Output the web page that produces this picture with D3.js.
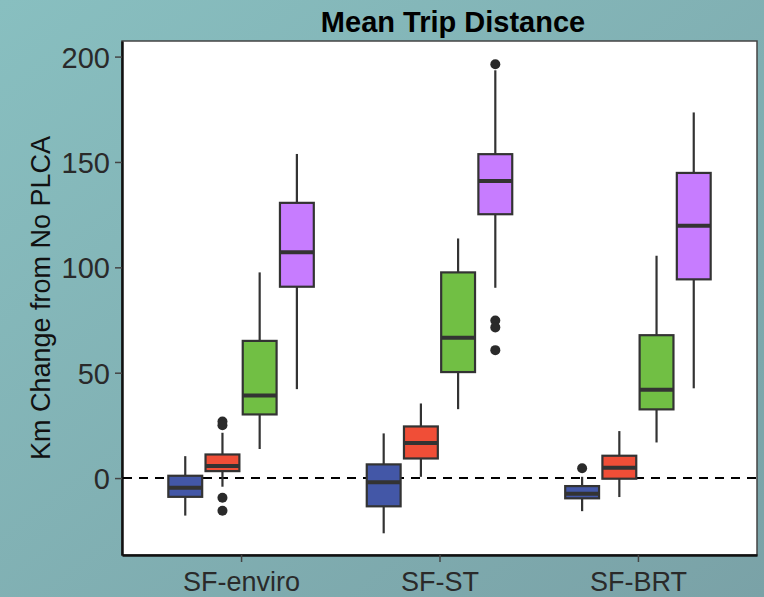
<!DOCTYPE html>
<html>
<head>
<meta charset="utf-8">
<script src="https://cdn.jsdelivr.net/npm/d3@7"></script>
<style>
  body { margin: 0; padding: 0; overflow: hidden; }
  text { font-family: "Liberation Sans", Arial, sans-serif; }
</style>
</head>
<body>
<script>
// categories and series
var categories = ['SF-enviro', 'SF-ST', 'SF-BRT'];
var series = ['s1', 's2', 's3', 's4'];
var seriesColors = ['#4357a7', '#f04e37', '#71bf44', '#c77cff'];
var yTicks = [0, 50, 100, 150, 200];

// box stats per series, one entry per category: [low whisker, q1, median, q3, high whisker]
var blueStats   = [[-17.8, -8.9, -4.6, 1.1, 10.4], [-26.2, -13.4, -2.0, 6.5, 21.2], [-15.7, -9.6, -7.4, -3.8, 0.6]];
var redStats    = [[-4.1, 3.3, 5.7, 11.2, 21.5], [0.6, 9.3, 16.6, 24.5, 35.4], [-9.0, -0.3, 4.9, 10.6, 22.3]];
var greenStats  = [[13.8, 30.2, 39.2, 65.1, 97.6], [32.7, 50.3, 66.6, 97.6, 113.7], [16.9, 32.6, 41.9, 67.8, 105.5]];
var purpleStats = [[42.2, 90.8, 107.2, 130.6, 153.8], [90.3, 125.2, 141.0, 153.7, 193.5], [42.6, 94.3, 119.7, 144.8, 173.5]];

// outliers: [category, series index, value]
var outliers = [
  ['SF-enviro', 1, 26.8], ['SF-enviro', 1, 25.1], ['SF-enviro', 1, -9.3], ['SF-enviro', 1, -15.5],
  ['SF-ST', 3, 196.4], ['SF-ST', 3, 74.8], ['SF-ST', 3, 71.5], ['SF-ST', 3, 60.7],
  ['SF-BRT', 0, 4.7]
];

var w = 764, h = 597;
var pLeft = 122, pRight = 757, pTop = 41, pBottom = 555;

var svg = d3.select('body')
  .append('svg')
  .attr('width', w)
  .attr('height', h);

// background gradient
var grad = svg.append('defs')
  .append('linearGradient')
  .attr('id', 'bg')
  .attr('x1', '0%').attr('y1', '0%')
  .attr('x2', '100%').attr('y2', '100%');
grad.append('stop').attr('offset', '0%').attr('stop-color', '#88bfc0');
grad.append('stop').attr('offset', '100%').attr('stop-color', '#7aa2a7');
svg.append('rect')
  .attr('width', w)
  .attr('height', h)
  .attr('fill', 'url(#bg)');

var x = d3.scalePoint()
  .domain(categories)
  .range([pLeft, pRight])
  .padding(0.6);
var step = x.step();
var y = d3.scaleLinear()
  .domain([-36.5, 207.4])
  .range([pBottom, pTop]);

var dodge = d3.scaleBand()
  .domain(series)
  .range([-0.375 * step, 0.375 * step]);
var boxW = dodge.bandwidth() * 0.91;

// panel
svg.append('rect')
  .attr('x', pLeft)
  .attr('y', pTop)
  .attr('width', pRight - pLeft)
  .attr('height', pBottom - pTop)
  .attr('fill', '#ffffff')
  .attr('stroke', '#444')
  .attr('stroke-width', 1.5);

// axes
var yAxis = svg.append('g')
  .attr('transform', 'translate(' + pLeft + ',0)')
  .call(d3.axisLeft(y).tickValues(yTicks).tickSizeInner(7).tickSizeOuter(0).tickPadding(5));
var xAxis = svg.append('g')
  .attr('transform', 'translate(0,' + pBottom + ')')
  .call(d3.axisBottom(x).tickSizeInner(7).tickSizeOuter(0).tickPadding(10));
[yAxis, xAxis].forEach(function(a) {
  a.select('.domain').attr('stroke', '#111').attr('stroke-width', 2.5);
  a.selectAll('.tick line').attr('stroke', '#444').attr('stroke-width', 1.5);
  a.selectAll('.tick text')
    .attr('fill', '#2a2a2a')
    .style('font-family', '"Liberation Sans", Arial, sans-serif');
});
yAxis.selectAll('.tick text').style('font-size', '29px').attr('dy', '0.36em');
xAxis.selectAll('.tick text').style('font-size', '27px');

// zero reference line
svg.append('line')
  .attr('x1', pLeft + 1)
  .attr('x2', pRight)
  .attr('y1', y(0))
  .attr('y2', y(0))
  .attr('stroke', '#000')
  .attr('stroke-width', 2)
  .attr('stroke-dasharray', '9,7');

// boxes
var allStats = [blueStats, redStats, greenStats, purpleStats];
var boxes = [];
allStats.forEach(function(stats, si) {
  stats.forEach(function(s, ci) {
    boxes.push({cat: categories[ci], si: si, lo: s[0], q1: s[1], med: s[2], q3: s[3], hi: s[4]});
  });
});

var g = svg.append('g');
var bx = function(d) { return x(d.cat) + dodge(series[d.si]) + dodge.bandwidth() / 2; };

g.selectAll('.whisker-hi')
  .data(boxes)
  .enter()
  .append('line')
  .attr('x1', bx).attr('x2', bx)
  .attr('y1', function(d) { return y(d.hi); })
  .attr('y2', function(d) { return y(d.q3); })
  .attr('stroke', '#333').attr('stroke-width', 2.2);
g.selectAll('.whisker-lo')
  .data(boxes)
  .enter()
  .append('line')
  .attr('x1', bx).attr('x2', bx)
  .attr('y1', function(d) { return y(d.q1); })
  .attr('y2', function(d) { return y(d.lo); })
  .attr('stroke', '#333').attr('stroke-width', 2.2);
g.selectAll('.box')
  .data(boxes)
  .enter()
  .append('rect')
  .attr('x', function(d) { return bx(d) - boxW / 2; })
  .attr('y', function(d) { return y(d.q3); })
  .attr('width', boxW)
  .attr('height', function(d) { return y(d.q1) - y(d.q3); })
  .attr('fill', function(d) { return seriesColors[d.si]; })
  .attr('stroke', '#333').attr('stroke-width', 2.2);
g.selectAll('.median')
  .data(boxes)
  .enter()
  .append('line')
  .attr('x1', function(d) { return bx(d) - boxW / 2; })
  .attr('x2', function(d) { return bx(d) + boxW / 2; })
  .attr('y1', function(d) { return y(d.med); })
  .attr('y2', function(d) { return y(d.med); })
  .attr('stroke', '#333').attr('stroke-width', 4);

g.selectAll('.outlier')
  .data(outliers)
  .enter()
  .append('circle')
  .attr('cx', function(d) { return x(d[0]) + dodge(series[d[1]]) + dodge.bandwidth() / 2; })
  .attr('cy', function(d) { return y(d[2]); })
  .attr('r', 5)
  .attr('fill', '#2a2a2a');

// titles
svg.append('text')
  .attr('x', 453)
  .attr('y', 32)
  .attr('text-anchor', 'middle')
  .style('font-size', '29px')
  .style('font-weight', 'bold')
  .attr('fill', '#000')
  .text('Mean Trip Distance');
svg.append('text')
  .attr('transform', 'translate(50,' + ((pTop + pBottom) / 2) + ') rotate(-90)')
  .attr('text-anchor', 'middle')
  .style('font-size', '27px')
  .attr('fill', '#111')
  .text('Km Change from No PLCA');
</script>
</body>
</html>
